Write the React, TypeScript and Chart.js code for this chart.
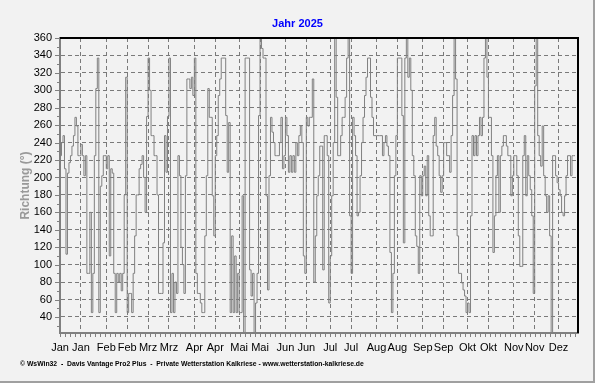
import React, { useEffect, useRef } from "react";
import { Chart, registerables } from "chart.js";

Chart.register(...registerables);

const chartTitle = "Jahr 2025";
const yAxisTitle = "Richtung (°)";
const footerText =
  "© WsWin32  -  Davis Vantage Pro2 Plus  -  Private Wetterstation Kalkriese - www.wetterstation-kalkriese.de";

// day-of-year positions of the month labels (1st and 15th)
const tickDays = [0, 14, 31, 45, 59, 73, 90, 104, 120, 134, 151, 165, 181, 195, 212, 226, 243, 257, 273, 287, 304, 318, 334];
const tickLabels = ["Jan", "Jan", "Feb", "Feb", "Mrz", "Mrz", "Apr", "Apr", "Mai", "Mai", "Jun", "Jun", "Jul", "Jul", "Aug", "Aug", "Sep", "Sep", "Okt", "Okt", "Nov", "Nov", "Dez"];
const yTicks = [40, 60, 80, 100, 120, 140, 160, 180, 200, 220, 240, 260, 280, 300, 320, 340, 360];

// daily wind direction (degrees), day 0 = 1 Jan
const direction = [
  225, 240, 248, 210, 112, 205, 217, 225, 236, 248,
  269, 259, 225, 225, 238, 225, 202, 225, 90, 90,
  160, 45, 90, 225, 302, 337, 45, 190, 202, 225,
  225, 210, 225, 110, 210, 205, 90, 45, 90, 80,
  90, 70, 90, 180, 315, 45, 67, 67, 45, 90,
  133, 180, 180, 210, 215, 225, 200, 160, 270, 337,
  300, 248, 248, 225, 225, 180, 67, 67, 67, 125,
  248, 206, 270, 337, 45, 90, 45, 80, 67, 225,
  202, 120, 100, 67, 202, 313, 313, 302, 315, 294,
  337, 90, 67, 67, 56, 45, 45, 133, 202, 302,
  269, 269, 179, 133, 225, 248, 294, 313, 337, 337,
  337, 271, 206, 263, 45, 133, 45, 110, 45, 90,
  45, 45, 179, 22, 337, 337, 337, 94, 64, 90,
  22, 56, 90, 271, 360, 348, 337, 337, 179, 71,
  202, 269, 252, 240, 225, 225, 225, 240, 269, 210,
  225, 269, 248, 206, 225, 206, 225, 206, 240, 225,
  248, 259, 240, 110, 90, 269, 259, 269, 269, 313,
  80, 133, 179, 202, 236, 236, 94, 248, 248, 225,
  56, 110, 179, 240, 360, 292, 225, 225, 248, 269,
  269, 292, 337, 360, 156, 90, 269, 248, 225, 156,
  160, 202, 240, 269, 294, 315, 337, 337, 292, 269,
  248, 248, 248, 248, 248, 248, 225, 240, 248, 236,
  225, 114, 45, 90, 202, 248, 337, 337, 337, 271,
  125, 337, 360, 315, 337, 300, 225, 202, 133, 121,
  90, 202, 179, 202, 213, 179, 225, 156, 133, 133,
  248, 269, 236, 225, 202, 183, 202, 240, 240, 225,
  225, 206, 248, 294, 360, 313, 133, 90, 90, 79,
  71, 64, 45, 56, 45, 156, 248, 225, 248, 225,
  248, 269, 248, 269, 337, 360, 315, 269, 269, 225,
  114, 156, 202, 225, 160, 225, 236, 248, 248, 236,
  225, 225, 179, 202, 225, 225, 202, 133, 98, 98,
  225, 248, 179, 225, 202, 186, 156, 67, 305, 360,
  248, 225, 213, 259, 202, 179, 160, 179, 133, 22,
  225, 225, 202, 194, 186, 179, 160, 156, 179, 202,
  225, 225, 202, 225, 225, 225,
];

const FONT = 'Arial, "Liberation Sans", sans-serif';

const decorPlugin = {
  id: "decor",
  beforeDraw(chart: any) {
    const { ctx, width, height } = chart;
    ctx.save();
    ctx.fillStyle = "#f2f2f2";
    ctx.fillRect(0, 0, width, height);
    ctx.restore();
  },
  afterDraw(chart: any) {
    const { ctx, chartArea: a, width, height } = chart;
    const ys = chart.scales.y;
    ctx.save();
    // top / right black frame
    ctx.strokeStyle = "#000";
    ctx.lineWidth = 2;
    ctx.beginPath();
    ctx.moveTo(a.left, a.top);
    ctx.lineTo(a.right, a.top);
    ctx.lineTo(a.right, a.bottom);
    ctx.stroke();
    // minor ticks bottom
    ctx.strokeStyle = "#808080";
    ctx.lineWidth = 1;
    ctx.beginPath();
    for (let x = a.left; x <= a.right + 0.5; x += 5) {
      const px = Math.round(x) + 0.5;
      ctx.moveTo(px, a.bottom + 1);
      ctx.lineTo(px, a.bottom + 4);
    }
    // ticks left
    for (let v = 30; v <= 360; v += 10) {
      const py = Math.round(ys.getPixelForValue(v)) + 0.5;
      const len = v % 20 === 0 ? 4 : 2;
      ctx.moveTo(a.left - 1 - len, py);
      ctx.lineTo(a.left - 1, py);
    }
    ctx.stroke();
    // title
    ctx.fillStyle = "#0000ff";
    ctx.font = "bold 11px " + FONT;
    ctx.textAlign = "center";
    ctx.textBaseline = "middle";
    ctx.fillText(chartTitle, width / 2, 24);
    // footer
    ctx.fillStyle = "#000";
    ctx.font = "bold 7px " + FONT;
    const w = ctx.measureText(footerText).width;
    const size = (7 * 344) / w;
    ctx.font = "bold " + size.toFixed(2) + "px " + FONT;
    ctx.textAlign = "left";
    ctx.fillText(footerText, 20, 364);
    // outer frame
    ctx.strokeStyle = "#a0a0a0";
    ctx.lineWidth = 2;
    ctx.beginPath();
    ctx.moveTo(width - 1, 0);
    ctx.lineTo(width - 1, height - 1);
    ctx.lineTo(0, height - 1);
    ctx.stroke();
    ctx.restore();
  },
};

export default function App() {
  const ref = useRef<HTMLCanvasElement | null>(null);

  useEffect(() => {
    document.body.style.margin = "0";
    document.body.style.background = "#f2f2f2";
    const canvas = ref.current;
    if (!canvas) return;
    const points = direction.map((v, i) => ({ x: i, y: v }));
    const chart = new Chart(canvas, {
      type: "line",
      data: {
        datasets: [
          {
            data: points,
            borderColor: "#808080",
            borderWidth: 1,
            pointRadius: 0,
            stepped: true,
            fill: false,
          },
        ],
      },
      options: {
        animation: false,
        responsive: false,
        devicePixelRatio: 1,
        layout: { padding: { left: 0, top: 38, right: 17, bottom: 0 } },
        plugins: { legend: { display: false }, tooltip: { enabled: false }, title: { display: false } },
        scales: {
          x: {
            type: "linear",
            min: 0,
            max: 347,
            afterFit: (s: any) => {
              s.height = 50;
            },
            afterBuildTicks: (s: any) => {
              s.ticks = tickDays.map((v) => ({ value: v }));
            },
            ticks: {
              autoSkip: false,
              maxRotation: 0,
              padding: 8,
              color: "#000",
              font: { family: FONT, size: 11 },
              callback: (_v: any, i: number) => tickLabels[i],
            },
            grid: { color: "#7a7a7a", lineWidth: 1, drawTicks: false },
            border: { display: true, color: "#808080", width: 2, dash: [4, 3] },
          },
          y: {
            type: "linear",
            min: 21.6,
            max: 360,
            afterFit: (s: any) => {
              s.width = 60;
            },
            afterBuildTicks: (s: any) => {
              s.ticks = yTicks.map((v) => ({ value: v }));
            },
            ticks: {
              padding: 8,
              color: "#000",
              font: { family: FONT, size: 11 },
            },
            grid: { color: "#7a7a7a", lineWidth: 1, drawTicks: false },
            border: { display: true, color: "#808080", width: 2, dash: [4, 3] },
            title: {
              display: true,
              text: yAxisTitle,
              color: "#999999",
              font: { family: FONT, size: 12, weight: "bold" },
              padding: { top: 18, bottom: 0 },
            },
          },
        },
      },
      plugins: [decorPlugin],
    });
    return () => chart.destroy();
  }, []);

  return (
    <div style={{ width: 595, height: 383, background: "#f2f2f2" }}>
      <canvas ref={ref} width={595} height={383} style={{ display: "block" }} />
    </div>
  );
}
